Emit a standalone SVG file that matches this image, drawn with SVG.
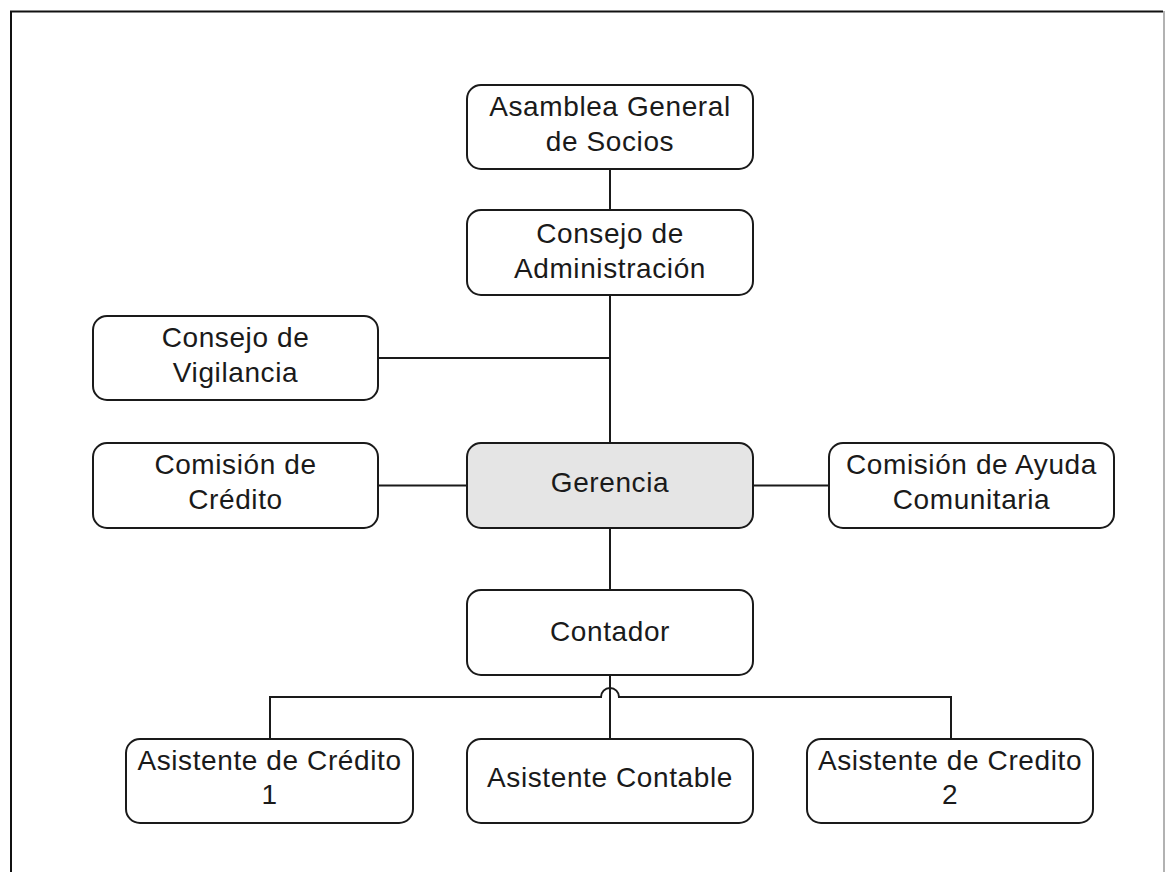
<svg xmlns="http://www.w3.org/2000/svg" width="1165" height="872" viewBox="0 0 1165 872">
<style>
.box{fill:#ffffff;stroke:#1a1a1a;stroke-width:2}
.hl{fill:#e5e5e5}
.t{font-family:"Liberation Sans",Arial,sans-serif;font-size:28px;letter-spacing:0.6px;fill:#1a1a1a;text-anchor:middle}
.c{fill:none;stroke:#1a1a1a;stroke-width:2}
</style>
<rect width="1165" height="872" fill="#ffffff"/>
<path d="M11,872 V11.5 H1163" fill="none" stroke="#111" stroke-width="2"/>
<path d="M1164,11 V872" fill="none" stroke="#999" stroke-width="1.5"/>
<g id="connectors">
<path class="c" d="M610,169 V210"/>
<path class="c" d="M610,295 V443"/>
<path class="c" d="M378,358 H610"/>
<path class="c" d="M378,485.5 H467"/>
<path class="c" d="M753,485.5 H829"/>
<path class="c" d="M610,528 V590"/>
<path class="c" d="M610,675 V739"/>
<path class="c" d="M270,739 V697 H601 A9,9 0 0 1 619,697 H951 V739"/>
</g>
<g id="asamblea"><rect class="box" x="467" y="85" width="286" height="84" rx="14"/><text class="t" x="610" y="116">Asamblea General</text><text class="t" x="610" y="151">de Socios</text></g>
<g id="consejo-admin"><rect class="box" x="467" y="210" width="286" height="85" rx="14"/><text class="t" x="610" y="243">Consejo de</text><text class="t" x="610" y="278">Administración</text></g>
<g id="consejo-vigilancia"><rect class="box" x="93" y="316" width="285" height="84" rx="14"/><text class="t" x="235.5" y="347">Consejo de</text><text class="t" x="235.5" y="382">Vigilancia</text></g>
<g id="comision-credito"><rect class="box" x="93" y="443" width="285" height="85" rx="14"/><text class="t" x="235.5" y="474">Comisión de</text><text class="t" x="235.5" y="509">Crédito</text></g>
<g id="gerencia"><rect class="box hl" x="467" y="443" width="286" height="85" rx="14"/><text class="t" x="610" y="492">Gerencia</text></g>
<g id="comision-ayuda"><rect class="box" x="829" y="443" width="285" height="85" rx="14"/><text class="t" x="971.5" y="474">Comisión de Ayuda</text><text class="t" x="971.5" y="509">Comunitaria</text></g>
<g id="contador"><rect class="box" x="467" y="590" width="286" height="85" rx="14"/><text class="t" x="610" y="641">Contador</text></g>
<g id="asistente-credito-1"><rect class="box" x="126" y="739" width="287" height="84" rx="14"/><text class="t" x="269.5" y="770">Asistente de Crédito</text><text class="t" x="269.5" y="804">1</text></g>
<g id="asistente-contable"><rect class="box" x="467" y="739" width="286" height="84" rx="14"/><text class="t" x="610" y="787">Asistente Contable</text></g>
<g id="asistente-credito-2"><rect class="box" x="807" y="739" width="286" height="84" rx="14"/><text class="t" x="950" y="770">Asistente de Credito</text><text class="t" x="950" y="804">2</text></g>
</svg>
